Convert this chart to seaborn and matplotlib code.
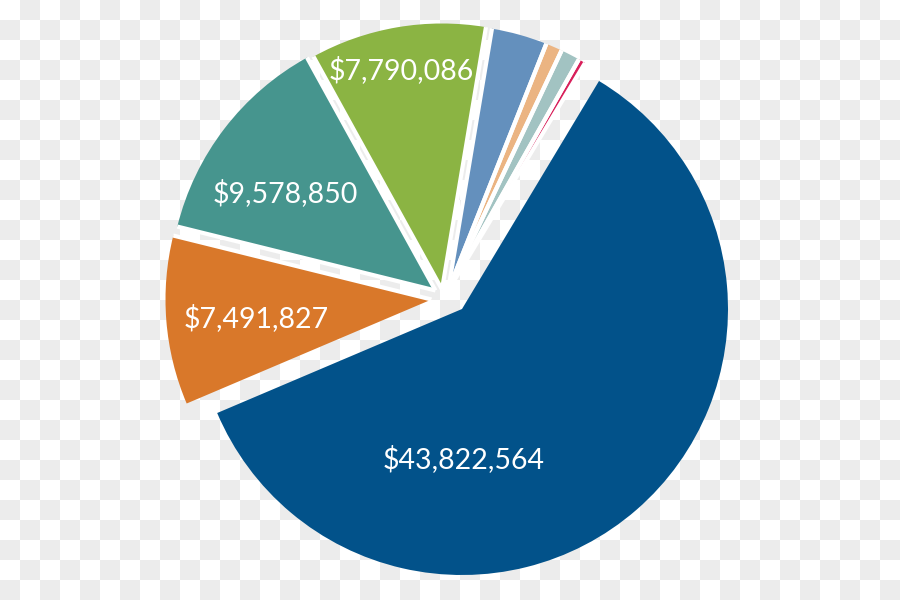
import numpy as np
import matplotlib
matplotlib.use("Agg")
import matplotlib.pyplot as plt
import seaborn as sns

# values in clockwise order, starting with the big slice
amounts = [43822564, 7491827, 9578850, 7790086, 2470000, 730000, 850000, 310000]
labels = ["$43,822,564", "$7,491,827", "$9,578,850", "$7,790,086", "", "", "", ""]
colors = ["#02528a", "#d9782a", "#46958e", "#8bb443",
          "#6490bd", "#ebb482", "#a2c3c2", "#d81f5a"]
# per-slice shift away from the centre, in px (x right, y up)
shifts = [(16, -12), (-14.5, -2.5), (-10.5, 6.5), (-4, 7.5),
          (2, 6), (2, 6), (2, 6), (2, 6)]
# which straight edges get a white border (the big slice and the orange/blue edge have none)
edge_sides = [(), ("theta1",), ("theta1", "theta2"), ("theta1", "theta2"),
              ("theta1", "theta2"), ("theta1", "theta2"), ("theta1", "theta2"),
              ("theta1", "theta2")]

# label placement: (angle in degrees, distance in px) from each wedge's tip
label_pos = [(-89.5, 150), (186, 176), (147, 179), (100.6, 223)]

sns.set_theme(style="white")
plt.rcParams["font.family"] = ["Lato", "DejaVu Sans"]

fig = plt.figure(figsize=(9, 6), dpi=100)

# transparent-png style checker background
bgax = fig.add_axes([0, 0, 1, 1])
rows, cols = np.indices((600, 900))
checker = (rows // 20 + cols // 20) % 2
bg = np.where(checker[..., None] == 1, 236, 255).repeat(3, axis=2).astype(np.uint8)
bgax.imshow(bg, aspect="auto", interpolation="nearest")
bgax.axis("off")

ax = fig.add_axes([0, 0, 1, 1])
ax.patch.set_visible(False)

wedges, _ = ax.pie(amounts, colors=sns.color_palette(colors),
                   startangle=59, counterclock=False, center=(446, 303), radius=266,
                   wedgeprops=dict(linewidth=0))

for w, (dx, dy) in zip(wedges, shifts):
    cx, cy = w.center
    w.set_center((cx + dx, cy + dy))

for w, sides in zip(wedges, edge_sides):
    cx, cy = w.center
    for s in sides:
        t = np.radians(getattr(w, s))
        ax.plot([cx, cx + w.r * np.cos(t)], [cy, cy + w.r * np.sin(t)],
                color="white", lw=3, solid_capstyle="butt", zorder=2)

for w, lab, (ang, dist) in zip(wedges, labels, label_pos):
    cx, cy = w.center
    tx = cx + dist * np.cos(np.radians(ang))
    ty = cy + dist * np.sin(np.radians(ang))
    ax.text(tx, ty, lab, color="white", fontsize=20.5, ha="center", va="center", zorder=3)

ax.set_xlim(0, 900)
ax.set_ylim(0, 600)
ax.set_aspect("equal")
ax.axis("off")

fig.savefig("out.png", dpi=100)
